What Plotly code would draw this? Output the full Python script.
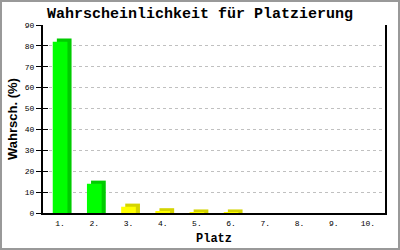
import plotly.graph_objects as go

plaetze = ["1.", "2.", "3.", "4.", "5.", "6.", "7.", "8.", "9.", "10."]
wahrsch = [82.0, 14.0, 3.0, 0.8, 0.2, 0.2, 0.0, 0.0, 0.0, 0.0]
front_colors = ["#00FF00", "#00FF00", "#FFFF00", "#FFFF00", "#FFFF00", "#FFFF00",
                "#FFFF00", "#FFFF00", "#FFFF00", "#FFFF00"]
side_colors = ["#00CC00", "#00CC00", "#D4D400", "#D4D400", "#D4D400", "#D4D400",
               "#D4D400", "#D4D400", "#D4D400", "#D4D400"]
y_ticks = [0, 10, 20, 30, 40, 50, 60, 70, 80, 90]

W, H = 400, 250
ML, MR, MT, MB = 43, 15, 25, 37
PW, PH = W - ML - MR, H - MT - MB

BAR_W = 0.43
DX = 0.12          # depth offset to the right (category units)
DY = 1.5           # depth offset upwards (value units)

mono = "Liberation Mono, Courier New, monospace"

back_heights = [v + DY if v > 0 else 0 for v in wahrsch]

fig = go.Figure()
# 3D depth (side + top) drawn behind
fig.add_trace(go.Bar(
    x=list(range(len(plaetze))), y=back_heights, width=BAR_W, offset=-BAR_W / 2 + DX,
    marker=dict(color=side_colors, line=dict(width=0)), yaxis="y", hoverinfo="skip",
))
# front faces on overlaid axis (drawn above)
fig.add_trace(go.Bar(
    x=list(range(len(plaetze))), y=wahrsch, width=BAR_W, offset=-BAR_W / 2,
    marker=dict(color=front_colors, line=dict(width=0)), yaxis="y2",
))

fig.update_layout(
    width=W, height=H,
    margin=dict(l=ML, r=MR, t=MT, b=MB, pad=0, autoexpand=False),
    paper_bgcolor="white", plot_bgcolor="white",
    showlegend=False, barmode="overlay",
    title=dict(text="<b>Wahrscheinlichkeit für Platzierung</b>",
               font=dict(family=mono, size=15, color="black"),
               x=0.5, xref="container", xanchor="center",
               y=1 - 12.5 / H, yref="container", yanchor="middle"),
    xaxis=dict(range=[-0.5, 9.5], tickmode="array", automargin=False,
               tickvals=list(range(len(plaetze))), ticktext=plaetze,
               showline=True, linecolor="black", linewidth=2,
               ticks="", showgrid=False, zeroline=False, ticklabelstandoff=1,
               tickfont=dict(family=mono, size=8, color="black")),
    yaxis=dict(range=[0, 90], tickmode="array", tickvals=y_ticks, automargin=False,
               showline=True, linecolor="black", linewidth=2, mirror=True,
               ticks="outside", ticklen=5, tickcolor="black", tickwidth=1,
               showgrid=True, gridcolor="#C0C0C0", griddash="3px,3px", gridwidth=1,
               zeroline=False,
               tickfont=dict(family=mono, size=8, color="black")),
    yaxis2=dict(range=[0, 90], overlaying="y", side="left", tickmode="array",
                automargin=False,
                tickvals=y_ticks, showticklabels=False, ticks="inside", ticklen=5,
                tickcolor="black", showgrid=False, zeroline=False, showline=False),
    annotations=[
        dict(text="<b>Wahrsch. (%)</b>", textangle=-90,
             font=dict(family="Liberation Sans, Arial, sans-serif", size=13, color="black"),
             xref="paper", yref="paper", x=(12 - ML) / PW, y=0.5,
             xanchor="center", yanchor="middle", showarrow=False),
        dict(text="<b>Platz</b>",
             font=dict(family=mono, size=12, color="black"),
             xref="paper", yref="paper", x=0.5, y=(H - MB - 239) / PH,
             xanchor="center", yanchor="middle", showarrow=False),
    ],
    shapes=[dict(type="rect", xref="paper", yref="paper",
                 x0=(1 - ML) / PW, x1=1 + (MR - 1) / PW,
                 y0=(1 - MB) / PH, y1=1 + (MT - 1) / PH,
                 line=dict(color="#999999", width=2), fillcolor="rgba(0,0,0,0)",
                 layer="above")],
)

fig.write_html("out.html")
